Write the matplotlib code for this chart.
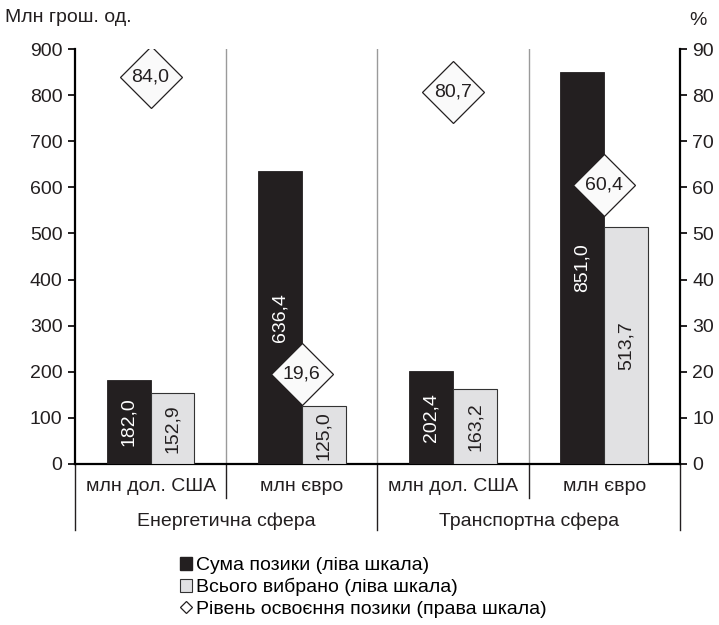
import matplotlib.pyplot as plt
from matplotlib.patches import Patch
from matplotlib.lines import Line2D

plt.rcParams['font.family'] = ['Liberation Sans', 'DejaVu Sans']

currencies = ['млн дол. США', 'млн євро', 'млн дол. США', 'млн євро']
spheres = ['Енергетична сфера', 'Транспортна сфера']
loan_sum = [182.0, 636.4, 202.4, 851.0]
drawn = [152.9, 125.0, 163.2, 513.7]
usage_pct = [84.0, 19.6, 80.7, 60.4]


def fmt(v):
    return f'{v:.1f}'.replace('.', ',')


fig = plt.figure(figsize=(7.19, 6.25), dpi=100)
ax = fig.add_axes([0.1043, 0.2576, 0.8414, 0.664])
ax2 = ax.twinx()

x = list(range(len(currencies)))
w = 0.29
black = '#231f20'
gray = '#e1e1e3'
fs = 14

ax.bar([i - w / 2 for i in x], loan_sum, w, color=black, edgecolor=black, linewidth=0.6, zorder=3)
ax.bar([i + w / 2 for i in x], drawn, w, color=gray, edgecolor='#333333', linewidth=0.8, zorder=3)

for i in x:
    ax.text(i - w / 2, loan_sum[i] / 2, fmt(loan_sum[i]), rotation=90, color='white',
            ha='center', va='center', fontsize=fs, zorder=4)
    ax.text(i + w / 2, drawn[i] / 2, fmt(drawn[i]), rotation=90, color=black,
            ha='center', va='center', fontsize=fs, zorder=4)

ax.set_xlim(-0.5, 3.5)
ax.set_ylim(0, 900)
ax.set_yticks(range(0, 901, 100))
ax2.set_ylim(0, 90)
ax2.set_yticks(range(0, 91, 10))

# vertical separators inside the plot
for xv in [0.5, 1.5, 2.5]:
    ax.axvline(xv, color='#9a9a9a', linewidth=1.0, zorder=1)

# diamonds with the usage level
ax2.plot(x, usage_pct, linestyle='none', marker='D', markersize=32,
         markerfacecolor='#fafafa', markeredgecolor=black, markeredgewidth=0.9, zorder=5)
for i in x:
    ax2.text(i, usage_pct[i], fmt(usage_pct[i]), ha='center', va='center',
             fontsize=fs, color=black, zorder=6)
ax2.set_zorder(ax.get_zorder() + 1)
ax2.patch.set_visible(False)

for a in (ax, ax2):
    a.spines['top'].set_visible(False)
    a.spines['left'].set_linewidth(1.6)
    a.spines['right'].set_linewidth(1.6)
    a.spines['bottom'].set_linewidth(1.6)
    a.tick_params(axis='y', direction='out', length=5, width=1.4, labelsize=fs, pad=4, colors=black)

ax.spines['right'].set_visible(False)
ax2.spines['left'].set_visible(False)
ax2.spines['bottom'].set_visible(False)

# category labels under the axis
ax.set_xticks([])
tr = ax.get_xaxis_transform()
for i, lab in enumerate(currencies):
    ax.text(i, -0.055, lab, transform=tr, ha='center', va='center', fontsize=fs, color=black)
for j, lab in enumerate(spheres):
    ax.text(2 * j + 0.5, -0.137, lab, transform=tr, ha='center', va='center', fontsize=fs, color=black)

for xv, depth in [(-0.5, -0.159), (0.5, -0.082), (1.5, -0.159), (2.5, -0.082), (3.5, -0.159)]:
    ax.plot([xv, xv], [0, depth], transform=tr, color=black, linewidth=1.0, clip_on=False)

fig.text(0.007, 0.972, 'Млн грош. од.', ha='left', va='center', fontsize=fs, color=black)
fig.text(0.958, 0.967, '%', ha='left', va='center', fontsize=fs, color=black)

handles = [
    Patch(facecolor=black, edgecolor=black),
    Patch(facecolor=gray, edgecolor='#333333', linewidth=0.8),
    Line2D([], [], linestyle='none', marker='D', markersize=6, markerfacecolor='white',
           markeredgecolor=black, markeredgewidth=0.9),
]
labels = ['Сума позики (ліва шкала)', 'Всього вибрано (ліва шкала)',
          'Рівень освоєння позики (права шкала)']
fig.legend(handles, labels, loc='upper left', bbox_to_anchor=(0.250, 0.109), frameon=False,
           fontsize=fs, handlelength=0.65, handleheight=0.65, handletextpad=0.2,
           labelspacing=0.2, borderpad=0, borderaxespad=0)

fig.savefig('out.png', dpi=100)
